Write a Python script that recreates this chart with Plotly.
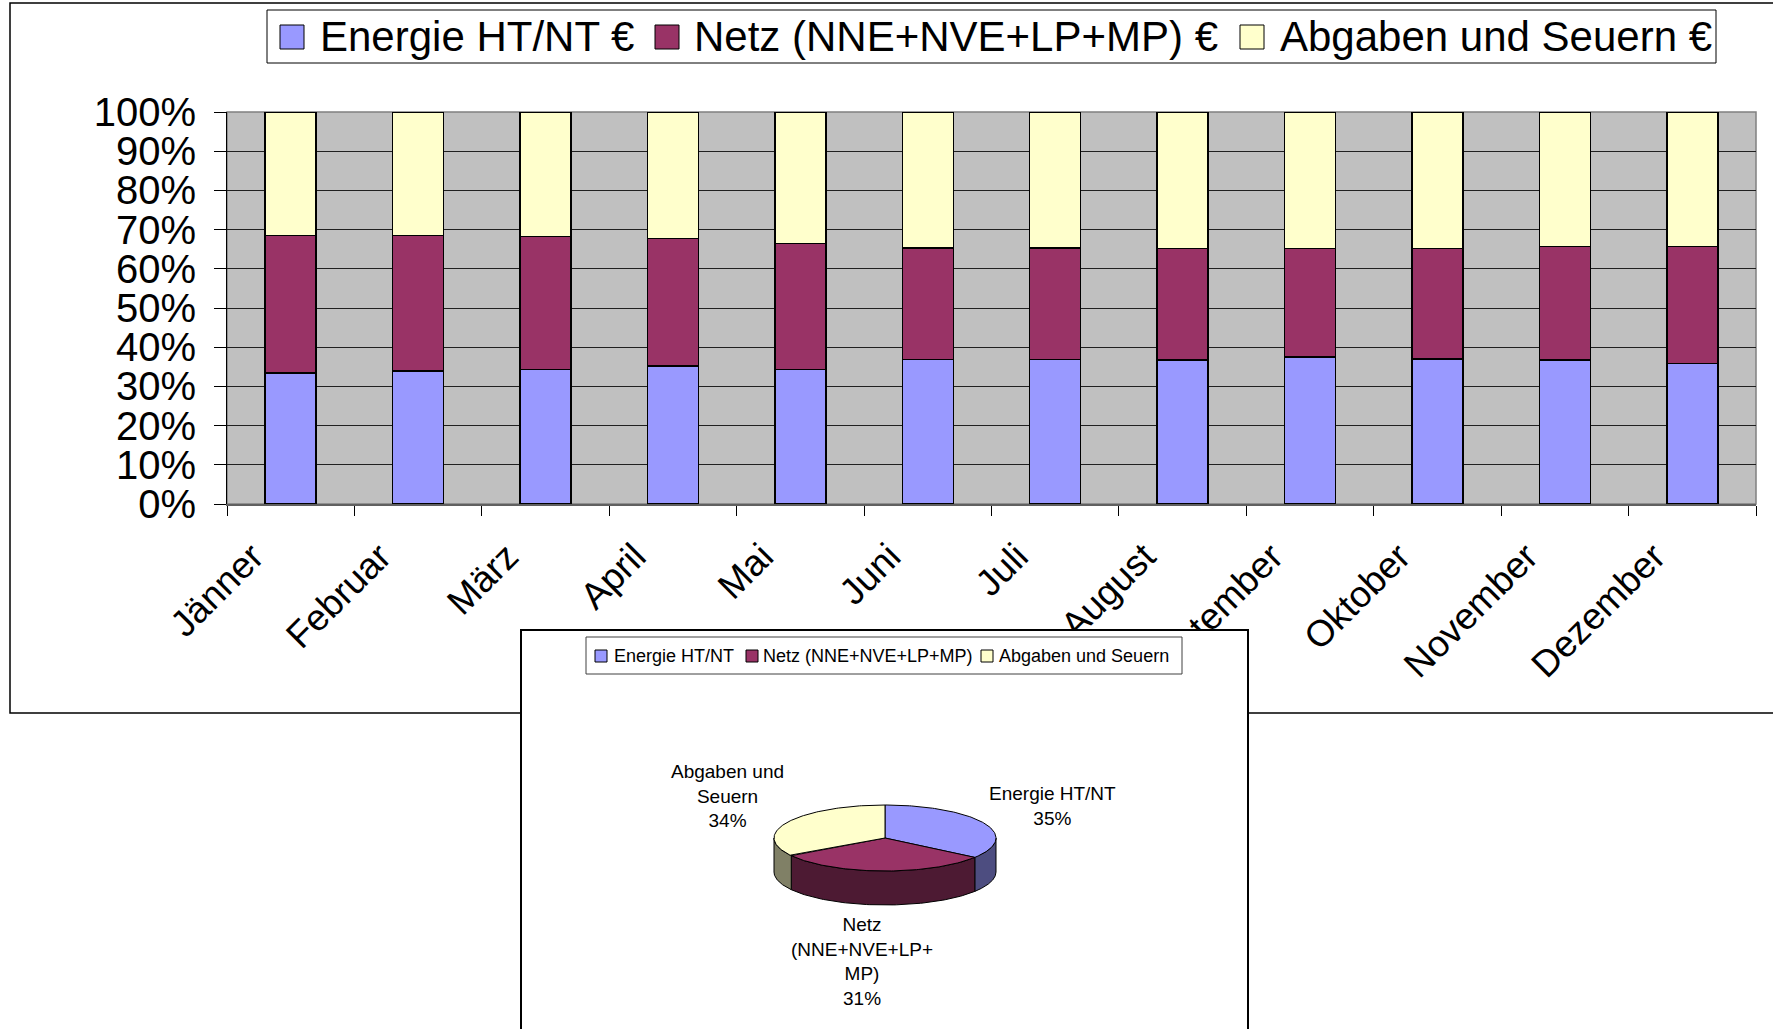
import numpy as np
import plotly.graph_objects as go

# ---- data -----------------------------------------------------------------
months = ["Jänner", "Februar", "März", "April", "Mai", "Juni", "Juli",
          "August", "September", "Oktober", "November", "Dezember"]
series_names = ["Energie HT/NT €", "Netz (NNE+NVE+LP+MP) €", "Abgaben und Seuern €"]
energie = [33.4, 33.9, 34.3, 35.2, 34.3, 36.9, 36.9, 36.7, 37.5, 37.0, 36.7, 35.9]
netz = [35.1, 34.6, 33.9, 32.5, 32.2, 28.4, 28.4, 28.5, 27.7, 28.2, 29.0, 29.8]
abgaben = [31.5, 31.5, 31.8, 32.3, 33.5, 34.7, 34.7, 34.8, 34.8, 34.8, 34.3, 34.3]

pie_names = ["Energie HT/NT", "Netz (NNE+NVE+LP+MP)", "Abgaben und Seuern"]
pie_label_lines = [["Energie HT/NT"], ["Netz", "(NNE+NVE+LP+", "MP)"], ["Abgaben und", "Seuern"]]
pie_values = [35, 31, 34]

y_ticks = list(range(0, 101, 10))
y_tick_text = [f"{v}%" for v in y_ticks]

# ---- styling --------------------------------------------------------------
top_colors = ["#9999FF", "#993366", "#FFFFCC"]
side_colors = ["#4D4D80", "#4D1A33", "#808066"]
FONT = "Liberation Sans, Arial, sans-serif"
W, H = 1773, 1029


def px(x):
    return x / W


def py(y):
    return 1 - y / H


fig = go.Figure()

# ---- stacked 100 % columns ------------------------------------------------
for name, vals, col in zip(series_names, [energie, netz, abgaben], top_colors):
    fig.add_trace(go.Bar(
        x=months, y=vals, name=name, width=0.4,
        marker=dict(color=col, line=dict(color="black", width=1.5)),
        showlegend=False, xaxis="x", yaxis="y",
    ))

# ---- 3D pie (drawn as extruded ellipse) -----------------------------------
cx, cy, rx, ry, depth = 363, 207, 111, 33, 34
total = sum(pie_values)
angles = [90.0]
for v in pie_values:
    angles.append(angles[-1] - 360.0 * v / total)


def ell(t_deg, dy=0.0):
    t = np.radians(t_deg)
    return cx + rx * np.cos(t), cy - ry * np.sin(t) + dy


# outer walls of the front half
for i in range(len(pie_values)):
    lo = max(angles[i + 1], -180.0)
    hi = min(angles[i], 0.0)
    if hi <= lo:
        continue
    t = np.linspace(lo, hi, 80)
    xt, yt = ell(t)
    xb, yb = ell(t[::-1], depth)
    fig.add_trace(go.Scatter(
        x=np.concatenate([xt, xb, xt[:1]]), y=np.concatenate([yt, yb, yt[:1]]),
        mode="lines", fill="toself", fillcolor=side_colors[i],
        line=dict(color="black", width=1), hoverinfo="skip",
        showlegend=False, xaxis="x2", yaxis="y2",
    ))

# top faces
for i in range(len(pie_values)):
    t = np.linspace(angles[i], angles[i + 1], 120)
    xa, ya = ell(t)
    fig.add_trace(go.Scatter(
        x=np.concatenate([[cx], xa, [cx]]), y=np.concatenate([[cy], ya, [cy]]),
        mode="lines", fill="toself", fillcolor=top_colors[i],
        line=dict(color="black", width=1), hoverinfo="skip",
        showlegend=False, xaxis="x2", yaxis="y2",
    ))

# ---- layout ---------------------------------------------------------------
shapes = []
annotations = []

# outer chart frame
shapes.append(dict(type="rect", xref="paper", yref="paper",
                   x0=px(10), x1=px(1800), y0=py(713), y1=py(3),
                   line=dict(color="black", width=1.5), fillcolor="rgba(0,0,0,0)",
                   layer="below"))
# plot area background
shapes.append(dict(type="rect", xref="x domain", yref="y domain",
                   x0=0, x1=1, y0=0, y1=1,
                   line=dict(color="#808080", width=1.5), fillcolor="#C0C0C0",
                   layer="below"))
# white panel of the pie chart (sits on top of the column chart)
shapes.append(dict(type="rect", xref="x2", yref="y2",
                   x0=-5, x1=730, y0=-5, y1=410,
                   line=dict(width=0), fillcolor="white", layer="below"))

# column chart legend
shapes.append(dict(type="rect", xref="paper", yref="paper",
                   x0=px(267), x1=px(1716), y0=py(63), y1=py(10),
                   line=dict(color="black", width=1), fillcolor="white", layer="above"))
leg_sq = [280, 655, 1240]
leg_tx = [318, 692, 1278]
for name, col, sx, tx in zip(series_names, top_colors, leg_sq, leg_tx):
    shapes.append(dict(type="rect", xref="paper", yref="paper",
                       x0=px(sx), x1=px(sx + 24), y0=py(49), y1=py(25),
                       line=dict(color="black", width=1), fillcolor=col, layer="above"))
    annotations.append(dict(xref="paper", yref="paper", x=px(tx), y=py(37),
                            text=name, showarrow=False, xanchor="left", yanchor="middle",
                            font=dict(family=FONT, size=42, color="black")))

# pie legend
shapes.append(dict(type="rect", xref="paper", yref="paper",
                   x0=px(586), x1=px(1182), y0=py(674), y1=py(637),
                   line=dict(color="#404040", width=1), fillcolor="white", layer="above"))
pleg_sq = [595, 746, 981]
pleg_tx = [612, 761, 997]
for name, col, sx, tx in zip(pie_names, top_colors, pleg_sq, pleg_tx):
    shapes.append(dict(type="rect", xref="paper", yref="paper",
                       x0=px(sx), x1=px(sx + 12), y0=py(662), y1=py(650),
                       line=dict(color="black", width=1), fillcolor=col, layer="above"))
    annotations.append(dict(xref="paper", yref="paper", x=px(tx), y=py(655.5),
                            text=name, showarrow=False, xanchor="left", yanchor="middle",
                            font=dict(family=FONT, size=18, color="black")))

# pie data labels
label_pos = [(530, 175), (340, 330), (205, 165)]
for lines, v, (lx, ly) in zip(pie_label_lines, pie_values, label_pos):
    annotations.append(dict(xref="x2", yref="y2", x=lx, y=ly,
                            text="<br>".join(lines + [f"{v}%"]), showarrow=False,
                            xanchor="center", yanchor="middle", align="center",
                            font=dict(family=FONT, size=19, color="black")))

fig.update_layout(
    template="none",
    width=W, height=H,
    margin=dict(l=0, r=0, t=0, b=0, pad=0, autoexpand=False),
    paper_bgcolor="white", plot_bgcolor="rgba(0,0,0,0)",
    barmode="stack", bargap=0.6,
    showlegend=False,
    font=dict(family=FONT, color="black"),
    xaxis=dict(
        domain=[px(227), px(1756)], anchor="y", automargin=False,
        type="category", tickangle=-45,
        tickfont=dict(family=FONT, size=37, color="black"),
        ticks="outside", ticklen=10, tickcolor="black", tickwidth=1,
        tickson="boundaries",
        ticklabelshift=-38, ticklabelstandoff=14,
        showline=True, linecolor="#606060", linewidth=2,
        showgrid=False, zeroline=False,
    ),
    yaxis=dict(
        domain=[py(504), py(112)], anchor="x", automargin=False,
        range=[0, 100], tickvals=y_ticks, ticktext=y_tick_text,
        tickfont=dict(family=FONT, size=40, color="black"),
        ticks="outside", ticklen=12, tickcolor="black", tickwidth=1,
        ticklabelstandoff=10,
        showline=True, linecolor="black", linewidth=1,
        showgrid=True, gridcolor="#202020", gridwidth=1,
        zeroline=False,
    ),
    xaxis2=dict(
        domain=[px(522), px(1247)], anchor="y2", side="top", automargin=False,
        range=[0, 725], showgrid=False, zeroline=False,
        showticklabels=False, ticks="",
        showline=True, linecolor="black", linewidth=1.5,
    ),
    yaxis2=dict(
        domain=[0, py(631)], anchor="x2", automargin=False,
        range=[398, 0], showgrid=False, zeroline=False,
        showticklabels=False, ticks="",
        showline=True, mirror=True, linecolor="black", linewidth=1.5,
    ),
    shapes=shapes,
    annotations=annotations,
)

fig.write_html("out.html")
